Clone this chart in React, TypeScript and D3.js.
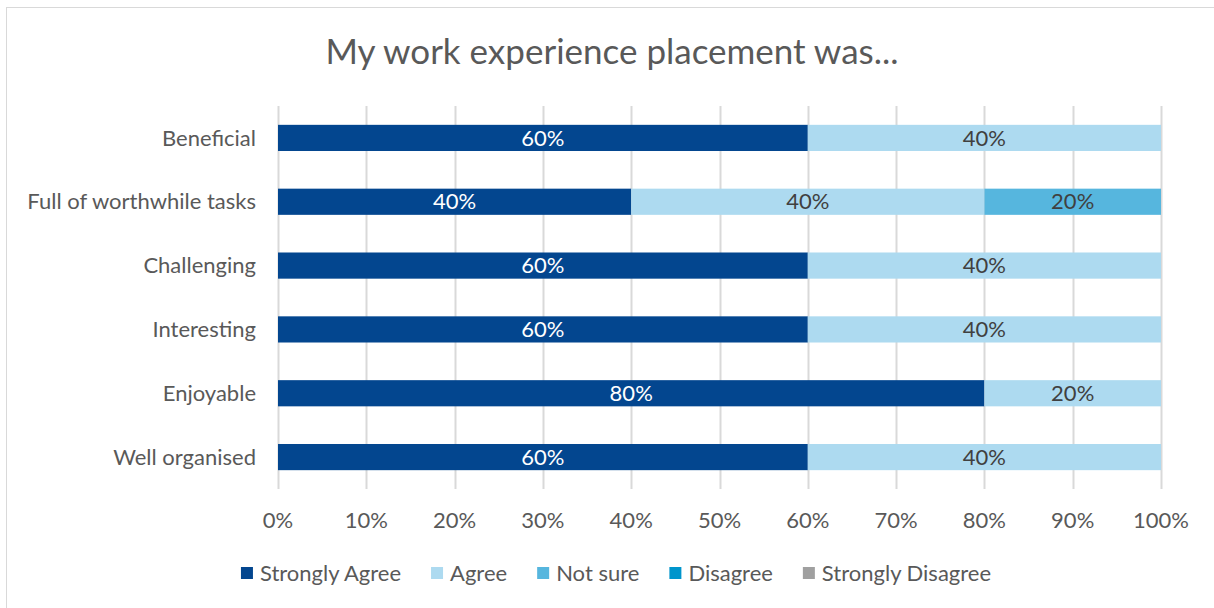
import React, { useEffect, useRef } from "react";
import * as d3 from "d3";

const categories = ["Beneficial", "Full of worthwhile tasks", "Challenging", "Interesting", "Enjoyable", "Well organised"];
const seriesNames = ["Strongly Agree", "Agree", "Not sure", "Disagree", "Strongly Disagree"];
const seriesColors = ["#03468F", "#ADDAF0", "#56B6DE", "#0095CC", "#A0A0A0"];
const labelColors = ["#FFFFFF", "#404040", "#404040", "#FFFFFF", "#FFFFFF"];
const stronglyAgree = [60, 40, 60, 60, 80, 60];
const agree = [40, 40, 40, 40, 20, 40];
const notSure = [0, 20, 0, 0, 0, 0];
const disagree = [0, 0, 0, 0, 0, 0];
const stronglyDisagree = [0, 0, 0, 0, 0, 0];
const xTicks = [0, 10, 20, 30, 40, 50, 60, 70, 80, 90, 100];
const title = "My work experience placement was...";

const FONT = "Lato, 'Open Sans', sans-serif";
const FS = 22;

export default function App() {
  const ref = useRef<SVGSVGElement>(null);
  useEffect(() => {
    const svg = d3.select(ref.current);
    svg.selectAll("*").remove();
    const W = 1214, H = 608;
    const left = 278, right = 1161, top = 106, bottom = 489;

    svg.append("rect").attr("x", 6.5).attr("y", 7.5).attr("width", W + 10).attr("height", H + 10)
      .attr("fill", "#fff").attr("stroke", "#D9D9D9").attr("stroke-width", 1);

    svg.append("text").attr("x", 612).attr("y", 64).attr("text-anchor", "middle")
      .attr("font-family", FONT).attr("font-size", 35).attr("fill", "#595959").text(title);

    const x = d3.scaleLinear().domain([0, 100]).range([left, right]);
    const y = d3.scaleBand().domain(categories).range([top, bottom]).paddingInner(0.59).paddingOuter(0.295);

    svg.append("g").selectAll("line").data(xTicks).join("line")
      .attr("x1", d => Math.round(x(d)) + 0.5).attr("x2", d => Math.round(x(d)) + 0.5)
      .attr("y1", top).attr("y2", bottom).attr("stroke", "#D9D9D9").attr("stroke-width", 2);

    svg.append("g").selectAll("text").data(xTicks).join("text")
      .attr("x", d => x(d)).attr("y", 528).attr("text-anchor", "middle")
      .attr("font-family", FONT).attr("font-size", FS).attr("fill", "#595959").text(d => d + "%");

    svg.append("g").selectAll("text").data(categories).join("text")
      .attr("x", 256).attr("y", d => (y(d) as number) + y.bandwidth() / 2).attr("dy", "0.35em")
      .attr("text-anchor", "end").attr("font-family", FONT).attr("font-size", FS).attr("fill", "#595959").text(d => d);

    const table = categories.map((c, i) => ({
      cat: c,
      "Strongly Agree": stronglyAgree[i],
      "Agree": agree[i],
      "Not sure": notSure[i],
      "Disagree": disagree[i],
      "Strongly Disagree": stronglyDisagree[i],
    }));
    const stack = d3.stack<any>().keys(seriesNames)(table);
    stack.forEach((s, si) => {
      const g = svg.append("g");
      const segs = s.filter(d => d[1] - d[0] > 0);
      g.selectAll("rect").data(segs).join("rect")
        .attr("x", d => x(d[0])).attr("width", d => x(d[1]) - x(d[0]))
        .attr("y", d => y(d.data.cat) as number).attr("height", y.bandwidth())
        .attr("fill", seriesColors[si]);
      g.selectAll("text").data(segs).join("text")
        .attr("x", d => (x(d[0]) + x(d[1])) / 2)
        .attr("y", d => (y(d.data.cat) as number) + y.bandwidth() / 2).attr("dy", "0.35em")
        .attr("text-anchor", "middle").attr("font-family", FONT).attr("font-size", FS)
        .attr("fill", labelColors[si]).text(d => (d[1] - d[0]) + "%");
    });

    // legend
    const legend = svg.append("g");
    const items = legend.selectAll("g").data(seriesNames).join("g");
    items.append("rect").attr("width", 12).attr("height", 12).attr("y", -6).attr("fill", (d, i) => seriesColors[i]);
    items.append("text").attr("x", 19).attr("dy", "0.35em").attr("font-family", FONT).attr("font-size", FS)
      .attr("fill", "#595959").text(d => d);
    const widths: number[] = [];
    items.each(function () {
      const t = d3.select(this).select("text").node() as SVGTextElement;
      widths.push(19 + t.getComputedTextLength());
    });
    const gap = 30;
    const total = d3.sum(widths) + gap * (widths.length - 1);
    let cx = 616 - total / 2;
    items.attr("transform", (d, i) => {
      const tx = cx;
      cx += widths[i] + gap;
      return `translate(${tx},573)`;
    });
  }, []);
  return <svg ref={ref} width={1214} height={608} style={{ display: "block", position: "absolute", left: 0, top: 0 }} />;
}
